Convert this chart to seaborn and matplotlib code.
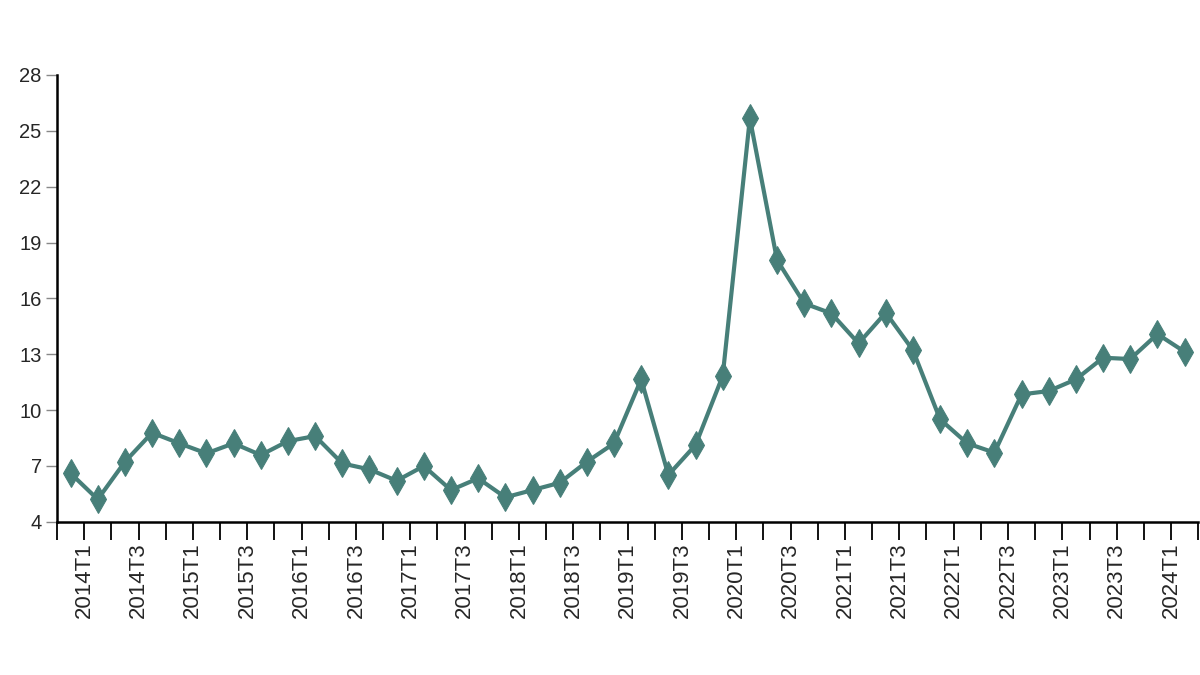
import numpy as np
import pandas as pd
import matplotlib
matplotlib.use("Agg")
import matplotlib.pyplot as plt
import seaborn as sns

quarters = [f"{y}T{q}" for y in range(2014, 2025) for q in range(1, 5)][:42]
values = [6.60, 5.20, 7.22, 8.78, 8.21, 7.67, 8.21, 7.58, 8.33, 8.60,
          7.13, 6.81, 6.20, 6.99, 5.70, 6.33, 5.31, 5.70, 6.09, 7.22,
          8.21, 11.65, 6.51, 8.12, 11.83, 25.67, 18.06, 15.73, 15.19, 13.58,
          15.23, 13.22, 9.50, 8.21, 7.71, 10.84, 11.02, 11.65, 12.81, 12.74,
          14.08, 13.13]
y_ticks = [4, 7, 10, 13, 16, 19, 22, 25, 28]

sns.set_style("white")
plt.rcParams['font.family'] = ['Liberation Sans', 'DejaVu Sans']

df = pd.DataFrame({"pos": np.arange(len(quarters)), "val": values, "q": quarters})

fig = plt.figure(figsize=(12, 6.75), dpi=100)
ax = fig.add_axes([0.0475, 0.2271, 0.951, 0.6618])
color = "#477f79"
sns.lineplot(data=df, x="pos", y="val", ax=ax, color=color, linewidth=3,
             marker="d", markersize=14, markeredgecolor=color, markerfacecolor=color)

ax.set_xlim(-0.5, len(quarters) - 0.5)
ax.set_ylim(4, 28)
ax.set_yticks(y_ticks)
ax.set_yticklabels([str(t) for t in y_ticks], fontsize=14.5)

tick_pos = np.arange(-0.5, len(quarters), 1.0)
labels = []
for p in tick_pos:
    i = int(p - 0.5)
    labels.append(quarters[i] if (0 <= i < len(quarters) and i % 2 == 0) else "")
ax.set_xticks(tick_pos)
ax.set_xticklabels(labels, rotation=90, fontsize=16, va="top", ha="center")

ax.tick_params(axis="x", length=13, width=1.3, color="black", direction="out", pad=2, bottom=True)
ax.tick_params(axis="y", length=8, width=1.0, color="#888888", direction="out", pad=3, left=True)
ax.set_xlabel("")
ax.set_ylabel("")
for s in ["top", "right"]:
    ax.spines[s].set_visible(False)
for s in ["left", "bottom"]:
    ax.spines[s].set_color("black")
    ax.spines[s].set_linewidth(1.8)

fig.savefig("out.png", dpi=100)
